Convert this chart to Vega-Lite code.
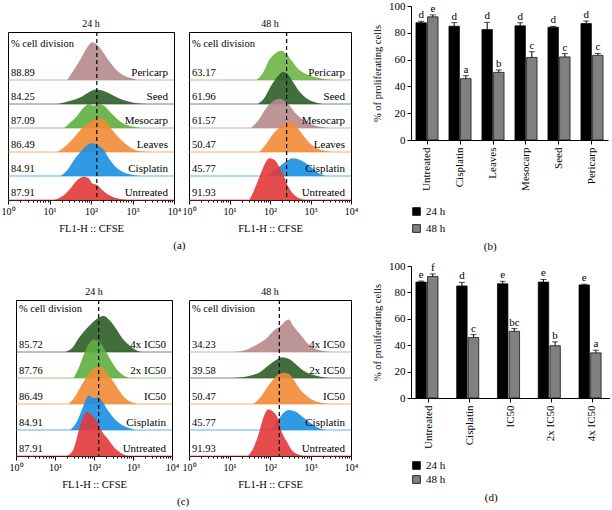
{
  "$schema": "https://vega.github.io/schema/vega-lite/v6.json",
  "padding": {"left": 0, "top": 0, "right": 0, "bottom": 0},
  "background": "white",
  "config": {
    "font": "Liberation Serif",
    "view": {"stroke": "black", "strokeWidth": 1},
    "axis": {"grid": false, "labelColor": "black", "titleColor": "black", "domainColor": "black", "tickColor": "black", "titleFontWeight": "normal", "labelFontSize": 10.5, "titleFontSize": 10.5, "labelOverlap": false, "labelFlush": false},
    "title": {"fontWeight": "normal", "color": "black"},
    "legend": {"labelColor": "black"}
  },
  "datasets": {
    "a24": [
      {"s": "Pericarp", "pct": 88.89, "base": 5, "lx": [1.43,1.55,1.75,1.91,2.03,2.15,2.27,2.43,2.59,2.76,2.96,3.12], "y": [5,5.32,5.87,6.36,6.57,6.47,6.22,5.8,5.46,5.22,5.08,5]},
      {"s": "Seed", "pct": 84.25, "base": 4, "lx": [1.19,1.51,1.75,1.95,2.11,2.27,2.47,2.67,2.88,3.12,3.36], "y": [4,4.14,4.28,4.49,4.6,4.56,4.42,4.24,4.11,4.03,4]},
      {"s": "Mesocarp", "pct": 87.09, "base": 3, "lx": [1.35,1.51,1.67,1.83,1.95,2.07,2.19,2.31,2.47,2.63,2.8,3.0,3.2], "y": [3,3.24,3.51,3.86,4.0,3.93,4.0,3.93,3.65,3.38,3.17,3.06,3]},
      {"s": "Leaves", "pct": 86.49, "base": 2, "lx": [1.19,1.39,1.59,1.79,1.95,2.07,2.19,2.31,2.47,2.63,2.8,3.0,3.2,3.44], "y": [2,2.25,2.6,3.01,3.22,3.36,3.43,3.36,3.01,2.67,2.39,2.14,2.03,2]},
      {"s": "Cisplatin", "pct": 84.91, "base": 1, "lx": [1.27,1.43,1.59,1.75,1.91,2.03,2.15,2.23,2.31,2.43,2.59,2.76,2.96,3.2], "y": [1,1.25,1.67,2.01,2.29,2.36,2.29,2.22,2.08,1.74,1.39,1.18,1.06,1]},
      {"s": "Untreated", "pct": 87.91, "base": 0, "lx": [1.11,1.35,1.51,1.67,1.83,1.95,2.03,2.15,2.27,2.43,2.63,2.88], "y": [0,0.21,0.49,0.83,0.97,0.9,0.69,0.63,0.42,0.21,0.07,0]}
    ],
    "a48": [
      {"s": "Pericarp", "pct": 63.17, "base": 5, "lx": [1.66,1.82,1.98,2.15,2.27,2.39,2.52,2.68,2.89,3.13,3.38,3.62], "y": [5,5.28,5.83,6.14,6.22,6.11,5.83,5.49,5.25,5.11,5.03,5]},
      {"s": "Seed", "pct": 61.96, "base": 4, "lx": [1.7,1.86,2.02,2.19,2.31,2.43,2.56,2.72,2.89,3.09,3.3], "y": [4,4.25,4.74,5.15,5.33,5.25,4.94,4.53,4.25,4.08,4]},
      {"s": "Mesocarp", "pct": 61.57, "base": 3, "lx": [1.53,1.74,1.9,2.07,2.23,2.35,2.48,2.64,2.84,3.05,3.3,3.46], "y": [3,3.39,3.81,4.11,4.22,4.15,3.94,3.6,3.32,3.14,3.04,3]},
      {"s": "Leaves", "pct": 50.47, "base": 2, "lx": [1.74,1.9,2.07,2.23,2.39,2.52,2.64,2.8,2.97,3.13,3.38,3.62], "y": [2,2.32,2.74,3.01,3.22,3.29,3.08,2.74,2.39,2.18,2.04,2]},
      {"s": "Cisplatin", "pct": 45.77, "base": 1, "lx": [1.9,2.07,2.23,2.39,2.56,2.72,2.89,3.05,3.21,3.38], "y": [1,1.18,1.39,1.6,1.74,1.69,1.53,1.32,1.11,1]},
      {"s": "Untreated", "pct": 91.93, "base": 0, "lx": [1.49,1.61,1.74,1.86,1.98,2.11,2.23,2.35,2.43,2.56,2.72,2.89], "y": [0,0.42,0.97,1.46,1.74,1.67,1.39,0.97,0.63,0.28,0.07,0]}
    ],
    "c24": [
      {"s": "4x IC50", "pct": 85.72, "base": 4, "lx": [1.26,1.44,1.61,1.78,1.95,2.12,2.25,2.38,2.55,2.72,2.89,3.06,3.23], "y": [4,4.15,4.54,4.86,5.12,5.32,5.38,5.25,4.93,4.54,4.28,4.09,4]},
      {"s": "2x IC50", "pct": 87.76, "base": 3, "lx": [1.48,1.61,1.74,1.86,1.99,2.12,2.25,2.42,2.59,2.76,2.93], "y": [3,3.39,3.9,4.29,4.48,4.42,4.16,3.71,3.32,3.1,3]},
      {"s": "IC50", "pct": 86.49, "base": 2, "lx": [1.35,1.52,1.69,1.86,2.03,2.16,2.29,2.46,2.63,2.8,3.02,3.15], "y": [2,2.3,2.75,3.14,3.39,3.46,3.26,2.94,2.55,2.23,2.04,2]},
      {"s": "Cisplatin", "pct": 84.91, "base": 1, "lx": [1.39,1.56,1.74,1.86,1.99,2.12,2.21,2.38,2.55,2.72,2.93,3.06], "y": [1,1.32,1.97,2.33,2.23,2.25,2.1,1.71,1.39,1.19,1.06,1]},
      {"s": "Untreated", "pct": 87.91, "base": 0, "lx": [1.31,1.48,1.65,1.82,1.95,2.08,2.21,2.38,2.55,2.72,2.89], "y": [0,0.28,1.19,1.7,1.57,1.32,0.93,0.61,0.28,0.09,0]}
    ],
    "c48": [
      {"s": "4x IC50", "pct": 34.23, "base": 4, "lx": [1.08,1.42,1.67,1.92,2.08,2.25,2.46,2.58,2.75,2.92,3.08,3.29,3.5], "y": [4,4.09,4.28,4.54,4.8,4.99,5.25,4.99,4.67,4.35,4.15,4.05,4]},
      {"s": "2x IC50", "pct": 39.58, "base": 3, "lx": [1.08,1.5,1.75,1.96,2.13,2.29,2.46,2.63,2.83,3.04,3.25,3.5], "y": [3,3.09,3.22,3.48,3.67,3.8,3.74,3.54,3.28,3.13,3.05,3]},
      {"s": "IC50", "pct": 50.47, "base": 2, "lx": [1.58,1.75,1.92,2.08,2.21,2.33,2.46,2.58,2.75,2.92,3.08,3.29,3.5], "y": [2,2.23,2.62,2.94,3.14,3.2,3.16,2.94,2.55,2.3,2.13,2.04,2]},
      {"s": "Cisplatin", "pct": 45.77, "base": 1, "lx": [2.0,2.17,2.33,2.46,2.63,2.79,2.96,3.13,3.29,3.42], "y": [1,1.32,1.65,1.77,1.71,1.52,1.32,1.13,1.03,1]},
      {"s": "Untreated", "pct": 91.93, "base": 0, "lx": [1.46,1.58,1.71,1.83,1.96,2.08,2.21,2.29,2.42,2.54,2.71,2.88], "y": [0,0.28,0.8,1.45,1.8,1.7,1.38,0.93,0.54,0.22,0.05,0]}
    ],
    "b": [
      {"g": "Untreated", "t": "24 h", "v": 87.5, "hi": 88.6, "l": "d"},
      {"g": "Untreated", "t": "48 h", "v": 91.9, "hi": 93.4, "l": "e"},
      {"g": "Cisplatin", "t": "24 h", "v": 84.9, "hi": 87.6, "l": "d"},
      {"g": "Cisplatin", "t": "48 h", "v": 45.8, "hi": 48.0, "l": "a"},
      {"g": "Leaves", "t": "24 h", "v": 82.5, "hi": 87.8, "l": "d"},
      {"g": "Leaves", "t": "48 h", "v": 50.5, "hi": 52.3, "l": "b"},
      {"g": "Mesocarp", "t": "24 h", "v": 85.2, "hi": 87.5, "l": "d"},
      {"g": "Mesocarp", "t": "48 h", "v": 61.6, "hi": 65.9, "l": "c"},
      {"g": "Seed", "t": "24 h", "v": 84.2, "hi": 84.8, "l": "d"},
      {"g": "Seed", "t": "48 h", "v": 62.0, "hi": 64.5, "l": "c"},
      {"g": "Pericarp", "t": "24 h", "v": 86.9, "hi": 88.8, "l": "d"},
      {"g": "Pericarp", "t": "48 h", "v": 63.2, "hi": 64.6, "l": "c"}
    ],
    "d": [
      {"g": "Untreated", "t": "24 h", "v": 87.8, "hi": 88.6, "l": "e"},
      {"g": "Untreated", "t": "48 h", "v": 92.0, "hi": 94.0, "l": "f"},
      {"g": "Cisplatin", "t": "24 h", "v": 84.9, "hi": 87.6, "l": "d"},
      {"g": "Cisplatin", "t": "48 h", "v": 45.8, "hi": 48.0, "l": "c"},
      {"g": "IC50", "t": "24 h", "v": 86.5, "hi": 88.4, "l": "e"},
      {"g": "IC50", "t": "48 h", "v": 50.5, "hi": 52.6, "l": "bc"},
      {"g": "2x IC50", "t": "24 h", "v": 87.8, "hi": 89.8, "l": "e"},
      {"g": "2x IC50", "t": "48 h", "v": 39.6, "hi": 42.5, "l": "b"},
      {"g": "4x IC50", "t": "24 h", "v": 85.7, "hi": 86.2, "l": "e"},
      {"g": "4x IC50", "t": "48 h", "v": 34.2, "hi": 36.2, "l": "a"}
    ]
  },
  "resolve": {"scale": {"color": "independent", "fill": "independent"}, "legend": {"color": "independent", "fill": "independent"}},
  "spacing": 13,
  "hconcat": [
    {
      "spacing": 11,
      "resolve": {"scale": {"color": "independent", "fill": "independent"}, "legend": {"color": "independent", "fill": "independent"}},
      "vconcat": [
        {"width": 20, "height": 1, "view": {"stroke": null, "fill": "white"}, "data": {"values": []}, "mark": "point", "encoding": {}},
        {
          "spacing": 35,
          "resolve": {"scale": {"color": "independent", "fill": "independent"}, "legend": {"color": "independent", "fill": "independent"}},
          "vconcat": [
            {
              "title": {"text": "(a)", "orient": "bottom", "anchor": "middle", "fontSize": 11, "offset": 6},
              "resolve": {"scale": {"color": "independent"}, "legend": {"color": "independent"}},
              "vconcat": [
                {
                  "spacing": 15,
                  "bounds": "flush",
                  "resolve": {"scale": {"color": "independent"}, "legend": {"color": "independent"}},
                  "hconcat": [
                    {
                      "width": 166, "height": 168,
                      "title": {"text": "24 h", "fontSize": 10, "offset": 2},
                      "data": {"name": "a24"},
                      "resolve": {"axis": {"x": "independent"}},
                      "layer": [
                        {"mark": {"type": "rule", "strokeWidth": 2, "opacity": 0.35},
                         "encoding": {"y": {"field": "base", "type": "quantitative", "scale": {"domain": [0, 7], "nice": false}, "axis": null},
                                      "color": {"field": "s", "type": "nominal", "scale": {"domain": ["Pericarp","Seed","Mesocarp","Leaves","Cisplatin","Untreated"], "range": ["#b68a8c","#2e5d28","#5dae3e","#f28b36","#1b8fe2","#e2393b"]}, "legend": null}}},
                        {"transform": [{"flatten": ["lx", "y"]}],
                         "mark": {"type": "area", "interpolate": "monotone", "opacity": 0.9},
                         "encoding": {"x": {"field": "lx", "type": "quantitative", "scale": {"domain": [0, 4], "nice": false},
                                            "axis": {"orient": "bottom", "title": "FL1-H :: CFSE", "titleFontSize": 10.5, "titleFontWeight": "normal", "titlePadding": 7, "domain": false, "labelOverlap": false, "labelFlush": false, "labelFontSize": 10, "labelPadding": 2, "tickSize": 4,
                                                     "values": [0, 1, 2, 3, 4], "labelExpr": "['10⁰','10¹','10²','10³','10⁴'][datum.value]"}},
                                      "y": {"field": "y", "type": "quantitative", "stack": null, "axis": null},
                                      "y2": {"field": "base"},
                                      "color": {"field": "s", "type": "nominal"}}},
                        {"data": {"values": [{"lx": 2.14}]},
                         "mark": {"type": "rule", "strokeDash": [4, 3], "strokeWidth": 1.2, "color": "black"},
                         "encoding": {"x": {"field": "lx", "type": "quantitative",
                                            "axis": {"orient": "bottom", "title": null, "labels": false, "domain": false, "tickSize": 2,
                                                     "values": [0.301,0.477,0.602,0.699,0.778,0.845,0.903,0.954,1.301,1.477,1.602,1.699,1.778,1.845,1.903,1.954,2.301,2.477,2.602,2.699,2.778,2.845,2.903,2.954,3.301,3.477,3.602,3.699,3.778,3.845,3.903,3.954]}}}},
                        {"mark": {"type": "text", "align": "left", "baseline": "bottom", "dx": 3, "dy": -2, "fontSize": 10.5},
                         "encoding": {"x": {"datum": 0, "axis": null}, "y": {"field": "base", "type": "quantitative", "axis": null}, "text": {"field": "pct", "type": "quantitative", "format": ".2f"}}},
                        {"mark": {"type": "text", "align": "right", "baseline": "bottom", "dx": -6, "dy": -2, "fontSize": 11},
                         "encoding": {"x": {"datum": 4, "axis": null}, "y": {"field": "base", "type": "quantitative", "axis": null}, "text": {"field": "s"}}},
                        {"data": {"values": [{"t": "% cell division"}]},
                         "mark": {"type": "text", "align": "left", "baseline": "middle", "dx": 3, "fontSize": 10.5},
                         "encoding": {"x": {"datum": 0, "axis": null}, "y": {"datum": 6.5, "axis": null}, "text": {"field": "t"}}}
                      ]
                    },
                    {
                      "width": 162, "height": 168,
                      "title": {"text": "48 h", "fontSize": 10, "offset": 2},
                      "data": {"name": "a48"},
                      "resolve": {"axis": {"x": "independent"}},
                      "layer": [
                        {"mark": {"type": "rule", "strokeWidth": 2, "opacity": 0.35},
                         "encoding": {"y": {"field": "base", "type": "quantitative", "scale": {"domain": [0, 7], "nice": false}, "axis": null},
                                      "color": {"field": "s", "type": "nominal", "scale": {"domain": ["Pericarp","Seed","Mesocarp","Leaves","Cisplatin","Untreated"], "range": ["#6db446","#2e5d28","#b68a8c","#f28b36","#1b8fe2","#e2393b"]}, "legend": null}}},
                        {"transform": [{"flatten": ["lx", "y"]}],
                         "mark": {"type": "area", "interpolate": "monotone", "opacity": 0.9},
                         "encoding": {"x": {"field": "lx", "type": "quantitative", "scale": {"domain": [0, 4], "nice": false},
                                            "axis": {"orient": "bottom", "title": "FL1-H :: CFSE", "titleFontSize": 10.5, "titleFontWeight": "normal", "titlePadding": 7, "domain": false, "labelOverlap": false, "labelFlush": false, "labelFontSize": 10, "labelPadding": 2, "tickSize": 4,
                                                     "values": [0, 1, 2, 3, 4], "labelExpr": "['10⁰','10¹','10²','10³','10⁴'][datum.value]"}},
                                      "y": {"field": "y", "type": "quantitative", "stack": null, "axis": null},
                                      "y2": {"field": "base"},
                                      "color": {"field": "s", "type": "nominal"}}},
                        {"data": {"values": [{"lx": 2.41}]},
                         "mark": {"type": "rule", "strokeDash": [4, 3], "strokeWidth": 1.2, "color": "black"},
                         "encoding": {"x": {"field": "lx", "type": "quantitative",
                                            "axis": {"orient": "bottom", "title": null, "labels": false, "domain": false, "tickSize": 2,
                                                     "values": [0.301,0.477,0.602,0.699,0.778,0.845,0.903,0.954,1.301,1.477,1.602,1.699,1.778,1.845,1.903,1.954,2.301,2.477,2.602,2.699,2.778,2.845,2.903,2.954,3.301,3.477,3.602,3.699,3.778,3.845,3.903,3.954]}}}},
                        {"mark": {"type": "text", "align": "left", "baseline": "bottom", "dx": 3, "dy": -2, "fontSize": 10.5},
                         "encoding": {"x": {"datum": 0, "axis": null}, "y": {"field": "base", "type": "quantitative", "axis": null}, "text": {"field": "pct", "type": "quantitative", "format": ".2f"}}},
                        {"mark": {"type": "text", "align": "right", "baseline": "bottom", "dx": -6, "dy": -2, "fontSize": 11},
                         "encoding": {"x": {"datum": 4, "axis": null}, "y": {"field": "base", "type": "quantitative", "axis": null}, "text": {"field": "s"}}},
                        {"data": {"values": [{"t": "% cell division"}]},
                         "mark": {"type": "text", "align": "left", "baseline": "middle", "dx": 3, "fontSize": 10.5},
                         "encoding": {"x": {"datum": 0, "axis": null}, "y": {"datum": 6.5, "axis": null}, "text": {"field": "t"}}}
                      ]
                    }
                  ]
                }
              ]
            },
            {
              "title": {"text": "(c)", "orient": "bottom", "anchor": "middle", "fontSize": 11, "offset": 6},
              "resolve": {"scale": {"color": "independent"}, "legend": {"color": "independent"}},
              "vconcat": [
                {
                  "spacing": 7,
                  "bounds": "flush",
                  "resolve": {"scale": {"color": "independent"}, "legend": {"color": "independent"}},
                  "hconcat": [
                    {"width": 1, "height": 1, "view": {"stroke": null, "fill": "white"}, "data": {"values": []}, "mark": "point", "encoding": {}},
                    {
                      "spacing": 17,
                      "bounds": "flush",
                      "resolve": {"scale": {"color": "independent"}, "legend": {"color": "independent"}},
                      "hconcat": [
                        {
                          "width": 156, "height": 156,
                          "title": {"text": "24 h", "fontSize": 10, "offset": 2},
                          "data": {"name": "c24"},
                          "resolve": {"axis": {"x": "independent"}},
                          "layer": [
                            {"mark": {"type": "rule", "strokeWidth": 2, "opacity": 0.35},
                             "encoding": {"y": {"field": "base", "type": "quantitative", "scale": {"domain": [0, 6], "nice": false}, "axis": null},
                                          "color": {"field": "s", "type": "nominal", "scale": {"domain": ["4x IC50","2x IC50","IC50","Cisplatin","Untreated"], "range": ["#2e5d28","#5dae3e","#f28b36","#1b8fe2","#e2393b"]}, "legend": null}}},
                            {"transform": [{"flatten": ["lx", "y"]}],
                             "mark": {"type": "area", "interpolate": "monotone", "opacity": 0.9},
                             "encoding": {"x": {"field": "lx", "type": "quantitative", "scale": {"domain": [0, 4], "nice": false},
                                                "axis": {"orient": "bottom", "title": "FL1-H :: CFSE", "titleFontSize": 10.5, "titleFontWeight": "normal", "titlePadding": 7, "domain": false, "labelOverlap": false, "labelFlush": false, "labelFontSize": 10, "labelPadding": 2, "tickSize": 4,
                                                         "values": [0, 1, 2, 3, 4], "labelExpr": "['10⁰','10¹','10²','10³','10⁴'][datum.value]"}},
                                          "y": {"field": "y", "type": "quantitative", "stack": null, "axis": null},
                                          "y2": {"field": "base"},
                                          "color": {"field": "s", "type": "nominal"}}},
                            {"data": {"values": [{"lx": 2.12}]},
                             "mark": {"type": "rule", "strokeDash": [4, 3], "strokeWidth": 1.2, "color": "black"},
                             "encoding": {"x": {"field": "lx", "type": "quantitative",
                                                "axis": {"orient": "bottom", "title": null, "labels": false, "domain": false, "tickSize": 2,
                                                         "values": [0.301,0.477,0.602,0.699,0.778,0.845,0.903,0.954,1.301,1.477,1.602,1.699,1.778,1.845,1.903,1.954,2.301,2.477,2.602,2.699,2.778,2.845,2.903,2.954,3.301,3.477,3.602,3.699,3.778,3.845,3.903,3.954]}}}},
                            {"mark": {"type": "text", "align": "left", "baseline": "bottom", "dx": 3, "dy": -2, "fontSize": 10.5},
                             "encoding": {"x": {"datum": 0, "axis": null}, "y": {"field": "base", "type": "quantitative", "axis": null}, "text": {"field": "pct", "type": "quantitative", "format": ".2f"}}},
                            {"mark": {"type": "text", "align": "right", "baseline": "bottom", "dx": -6, "dy": -2, "fontSize": 11},
                             "encoding": {"x": {"datum": 4, "axis": null}, "y": {"field": "base", "type": "quantitative", "axis": null}, "text": {"field": "s"}}},
                            {"data": {"values": [{"t": "% cell division"}]},
                             "mark": {"type": "text", "align": "left", "baseline": "middle", "dx": 3, "fontSize": 10.5},
                             "encoding": {"x": {"datum": 0, "axis": null}, "y": {"datum": 5.65, "axis": null}, "text": {"field": "t"}}}
                          ]
                        },
                        {
                          "width": 162, "height": 156,
                          "title": {"text": "48 h", "fontSize": 10, "offset": 2},
                          "data": {"name": "c48"},
                          "resolve": {"axis": {"x": "independent"}},
                          "layer": [
                            {"mark": {"type": "rule", "strokeWidth": 2, "opacity": 0.35},
                             "encoding": {"y": {"field": "base", "type": "quantitative", "scale": {"domain": [0, 6], "nice": false}, "axis": null},
                                          "color": {"field": "s", "type": "nominal", "scale": {"domain": ["4x IC50","2x IC50","IC50","Cisplatin","Untreated"], "range": ["#b68a8c","#2e5d28","#f28b36","#1b8fe2","#e2393b"]}, "legend": null}}},
                            {"transform": [{"flatten": ["lx", "y"]}],
                             "mark": {"type": "area", "interpolate": "monotone", "opacity": 0.9},
                             "encoding": {"x": {"field": "lx", "type": "quantitative", "scale": {"domain": [0, 4], "nice": false},
                                                "axis": {"orient": "bottom", "title": "FL1-H :: CFSE", "titleFontSize": 10.5, "titleFontWeight": "normal", "titlePadding": 7, "domain": false, "labelOverlap": false, "labelFlush": false, "labelFontSize": 10, "labelPadding": 2, "tickSize": 4,
                                                         "values": [0, 1, 2, 3, 4], "labelExpr": "['10⁰','10¹','10²','10³','10⁴'][datum.value]"}},
                                          "y": {"field": "y", "type": "quantitative", "stack": null, "axis": null},
                                          "y2": {"field": "base"},
                                          "color": {"field": "s", "type": "nominal"}}},
                            {"data": {"values": [{"lx": 2.23}]},
                             "mark": {"type": "rule", "strokeDash": [4, 3], "strokeWidth": 1.2, "color": "black"},
                             "encoding": {"x": {"field": "lx", "type": "quantitative",
                                                "axis": {"orient": "bottom", "title": null, "labels": false, "domain": false, "tickSize": 2,
                                                         "values": [0.301,0.477,0.602,0.699,0.778,0.845,0.903,0.954,1.301,1.477,1.602,1.699,1.778,1.845,1.903,1.954,2.301,2.477,2.602,2.699,2.778,2.845,2.903,2.954,3.301,3.477,3.602,3.699,3.778,3.845,3.903,3.954]}}}},
                            {"mark": {"type": "text", "align": "left", "baseline": "bottom", "dx": 3, "dy": -2, "fontSize": 10.5},
                             "encoding": {"x": {"datum": 0, "axis": null}, "y": {"field": "base", "type": "quantitative", "axis": null}, "text": {"field": "pct", "type": "quantitative", "format": ".2f"}}},
                            {"mark": {"type": "text", "align": "right", "baseline": "bottom", "dx": -6, "dy": -2, "fontSize": 11},
                             "encoding": {"x": {"datum": 4, "axis": null}, "y": {"field": "base", "type": "quantitative", "axis": null}, "text": {"field": "s"}}},
                            {"data": {"values": [{"t": "% cell division"}]},
                             "mark": {"type": "text", "align": "left", "baseline": "middle", "dx": 3, "fontSize": 10.5},
                             "encoding": {"x": {"datum": 0, "axis": null}, "y": {"datum": 5.65, "axis": null}, "text": {"field": "t"}}}
                          ]
                        }
                      ]
                    }
                  ]
                }
              ]
            }
          ]
        }
      ]
    },
    {
      "spacing": 8,
      "resolve": {"scale": {"fill": "independent"}, "legend": {"fill": "independent"}},
      "vconcat": [
        {
          "width": 197, "height": 134,
          "view": {"stroke": null},
          "data": {"name": "b"},
          "title": {"text": "(b)", "orient": "bottom", "fontSize": 11, "offset": 7, "frame": "bounds"},
          "encoding": {
            "x": {"field": "g", "type": "nominal", "sort": null, "scale": {"paddingInner": 0.33, "paddingOuter": 0.15},
                  "axis": {"title": null, "labelAngle": -90, "labelFontSize": 11, "tickSize": 4, "labelPadding": 3, "labelOverlap": false}}
          },
          "layer": [
            {"mark": {"type": "bar", "stroke": "black", "strokeWidth": 0.7},
             "encoding": {
               "xOffset": {"field": "t", "type": "nominal", "scale": {"paddingInner": 0.1}},
               "y": {"field": "v", "type": "quantitative", "scale": {"domain": [0, 100], "nice": false},
                     "axis": {"values": [0,20,40,60,80,100], "title": "% of proliferating cells", "titleFontSize": 10.5, "labelFontSize": 11, "tickSize": 4, "labelPadding": 2, "titlePadding": 6, "labelOverlap": false}},
               "fill": {"field": "t", "type": "nominal", "scale": {"range": ["#000000", "#808080"]},
                        "legend": {"title": null, "orient": "bottom", "direction": "vertical", "symbolType": "square", "symbolSize": 60, "symbolStrokeColor": "black", "symbolStrokeWidth": 0.8, "labelFontSize": 11, "offset": 15, "rowPadding": 5}}}},
            {"mark": {"type": "rule", "color": "black", "strokeWidth": 1},
             "encoding": {"xOffset": {"field": "t", "type": "nominal"},
                          "y": {"field": "v", "type": "quantitative", "axis": {"values": [0,20,40,60,80,100], "title": "% of proliferating cells", "titleFontSize": 10.5, "labelFontSize": 11, "tickSize": 4, "labelPadding": 2, "titlePadding": 6, "labelOverlap": false}}, "y2": {"field": "hi"}}},
            {"mark": {"type": "tick", "color": "black", "thickness": 1},
             "encoding": {"xOffset": {"field": "t", "type": "nominal"},
                          "y": {"field": "hi", "type": "quantitative", "axis": {"values": [0,20,40,60,80,100], "title": "% of proliferating cells", "titleFontSize": 10.5, "labelFontSize": 11, "tickSize": 4, "labelPadding": 2, "titlePadding": 6, "labelOverlap": false}}, "size": {"value": 6}}},
            {"mark": {"type": "text", "baseline": "bottom", "dy": -1, "fontSize": 11},
             "encoding": {"xOffset": {"field": "t", "type": "nominal"},
                          "y": {"field": "hi", "type": "quantitative", "axis": {"values": [0,20,40,60,80,100], "title": "% of proliferating cells", "titleFontSize": 10.5, "labelFontSize": 11, "tickSize": 4, "labelPadding": 2, "titlePadding": 6, "labelOverlap": false}}, "text": {"field": "l"}}}
          ]
        },
        {
          "width": 199, "height": 132,
          "view": {"stroke": null},
          "data": {"name": "d"},
          "title": {"text": "(d)", "orient": "bottom", "fontSize": 11, "offset": 7, "frame": "bounds"},
          "encoding": {
            "x": {"field": "g", "type": "nominal", "sort": null, "scale": {"paddingInner": 0.36, "paddingOuter": 0.12},
                  "axis": {"title": null, "labelAngle": -90, "labelFontSize": 11, "tickSize": 4, "labelPadding": 3, "labelOverlap": false}}
          },
          "layer": [
            {"mark": {"type": "bar", "stroke": "black", "strokeWidth": 0.7},
             "encoding": {
               "xOffset": {"field": "t", "type": "nominal", "scale": {"paddingInner": 0.1}},
               "y": {"field": "v", "type": "quantitative", "scale": {"domain": [0, 100], "nice": false},
                     "axis": {"values": [0,20,40,60,80,100], "title": "% of proliferating cells", "titleFontSize": 10.5, "labelFontSize": 11, "tickSize": 4, "labelPadding": 2, "titlePadding": 6, "labelOverlap": false}},
               "fill": {"field": "t", "type": "nominal", "scale": {"range": ["#000000", "#808080"]},
                        "legend": {"title": null, "orient": "bottom", "direction": "vertical", "symbolType": "square", "symbolSize": 60, "symbolStrokeColor": "black", "symbolStrokeWidth": 0.8, "labelFontSize": 11, "offset": 11, "rowPadding": 2}}}},
            {"mark": {"type": "rule", "color": "black", "strokeWidth": 1},
             "encoding": {"xOffset": {"field": "t", "type": "nominal"},
                          "y": {"field": "v", "type": "quantitative", "axis": {"values": [0,20,40,60,80,100], "title": "% of proliferating cells", "titleFontSize": 10.5, "labelFontSize": 11, "tickSize": 4, "labelPadding": 2, "titlePadding": 6, "labelOverlap": false}}, "y2": {"field": "hi"}}},
            {"mark": {"type": "tick", "color": "black", "thickness": 1},
             "encoding": {"xOffset": {"field": "t", "type": "nominal"},
                          "y": {"field": "hi", "type": "quantitative", "axis": {"values": [0,20,40,60,80,100], "title": "% of proliferating cells", "titleFontSize": 10.5, "labelFontSize": 11, "tickSize": 4, "labelPadding": 2, "titlePadding": 6, "labelOverlap": false}}, "size": {"value": 6}}},
            {"mark": {"type": "text", "baseline": "bottom", "dy": -1, "fontSize": 11},
             "encoding": {"xOffset": {"field": "t", "type": "nominal"},
                          "y": {"field": "hi", "type": "quantitative", "axis": {"values": [0,20,40,60,80,100], "title": "% of proliferating cells", "titleFontSize": 10.5, "labelFontSize": 11, "tickSize": 4, "labelPadding": 2, "titlePadding": 6, "labelOverlap": false}}, "text": {"field": "l"}}}
          ]
        }
      ]
    }
  ]
}
